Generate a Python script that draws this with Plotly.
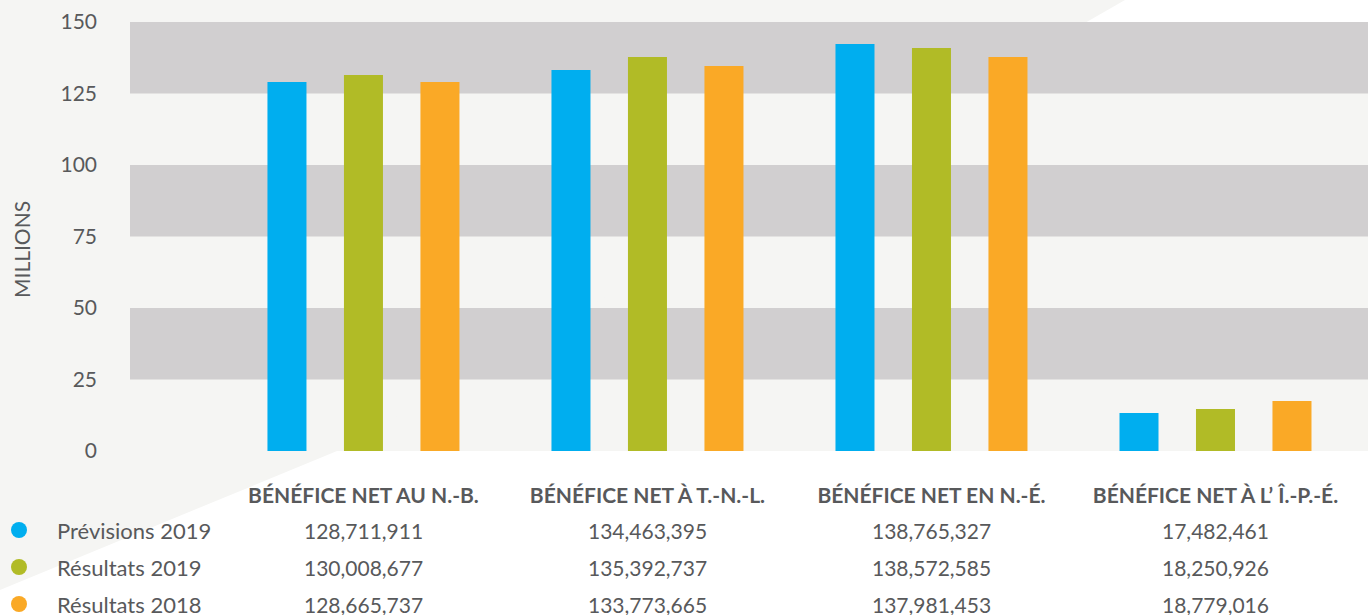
import plotly.graph_objects as go

categories = ["BÉNÉFICE NET AU N.-B.", "BÉNÉFICE NET À T.-N.-L.",
              "BÉNÉFICE NET EN N.-É.", "BÉNÉFICE NET À L’ Î.-P.-É."]
series_names = ["Prévisions 2019", "Résultats 2019", "Résultats 2018"]
colors = ["#00aeef", "#b1bb26", "#faa926"]

# bar heights (millions) as drawn in the picture
prev_2019 = [129.0, 133.2, 142.3, 13.3]
res_2019 = [131.5, 137.8, 140.9, 14.7]
res_2018 = [129.0, 134.6, 137.8, 17.5]

# table values shown under the chart
prev_2019_txt = ["128,711,911", "134,463,395", "138,765,327", "17,482,461"]
res_2019_txt = ["130,008,677", "135,392,737", "138,572,585", "18,250,926"]
res_2018_txt = ["128,665,737", "133,773,665", "137,981,453", "18,779,016"]

y_ticks = [0, 25, 50, 75, 100, 125, 150]
bands = [(25, 50), (75, 100), (125, 150)]

W, H = 1368, 615
L, R, T, B = 130, 0, 22, 164
PW, PH = W - L - R, H - T - B

def px_x(p):
    return (p - L) / PW

def px_y(p):
    return (H - B - p) / PH

TXT = "#58595b"
FONT = "Lato"

fig = go.Figure()
for name, vals, c in zip(series_names, [prev_2019, res_2019, res_2018], colors):
    fig.add_trace(go.Bar(x=categories, y=vals, name=name, marker_color=c,
                         marker_line_width=0, showlegend=False))

shapes = []
# background diagonal light area
shapes.append(dict(type="path", xref="paper", yref="paper", layer="below",
                   path=f"M {px_x(-5)},{px_y(-5)} L {px_x(1124)},{px_y(-5)} "
                        f"L {px_x(1125)},{px_y(0)} L {px_x(337)},{px_y(451)} "
                        f"L {px_x(-5)},{px_y(592)} Z",
                   fillcolor="#f5f5f3", line_width=0))
for lo, hi in bands:
    shapes.append(dict(type="rect", xref="paper", yref="y", x0=0, x1=1, y0=lo, y1=hi,
                       fillcolor="#d1cfd0", line_width=0, layer="below"))

annotations = []
row_y = [530, 567, 604]
for name, c, txts, ry in zip(series_names, colors,
                             [prev_2019_txt, res_2019_txt, res_2018_txt], row_y):
    shapes.append(dict(type="circle", xref="paper", yref="paper",
                       x0=px_x(19 - 8), x1=px_x(19 + 8), y0=px_y(ry + 8), y1=px_y(ry - 8),
                       fillcolor=c, line_width=0))
    annotations.append(dict(xref="paper", yref="paper", x=px_x(55), y=px_y(ry),
                            text=name, showarrow=False, xanchor="left", yanchor="middle",
                            font=dict(family=FONT, size=22, color=TXT)))
    for cat, t in zip(categories, txts):
        annotations.append(dict(xref="x", yref="paper", x=cat, y=px_y(ry), text=t,
                                showarrow=False, xanchor="center", yanchor="middle",
                                font=dict(family=FONT, size=21, color=TXT)))

annotations.append(dict(xref="paper", yref="paper", x=px_x(21), y=px_y(250),
                        text="MILLIONS", textangle=-90, showarrow=False,
                        xanchor="center", yanchor="middle",
                        font=dict(family=FONT, size=21, color=TXT)))

fig.update_layout(
    width=W, height=H,
    margin=dict(l=L, r=R, t=T, b=B),
    paper_bgcolor="white", plot_bgcolor="#f5f5f3",
    barmode="group", bargap=0.192, bargroupgap=0.49,
    shapes=shapes, annotations=annotations,
    xaxis=dict(type="category", range=[-0.822, 3.537], showgrid=False, zeroline=False,
               showline=False, ticks="", ticklabelstandoff=30,
               tickvals=categories, ticktext=[f"<b>{c}</b>" for c in categories],
               tickfont=dict(family=FONT, size=21, color=TXT)),
    yaxis=dict(range=[0, 150], tickvals=y_ticks, showgrid=False, zeroline=False,
               showline=False, ticks="", ticklabelstandoff=32,
               tickfont=dict(family=FONT, size=21, color=TXT)),
    font=dict(family=FONT, color=TXT),
)

fig.write_html("out.html", config={"displayModeBar": False},
               post_script="document.body.style.margin='0px';"
                           "document.body.style.overflow='hidden';")
